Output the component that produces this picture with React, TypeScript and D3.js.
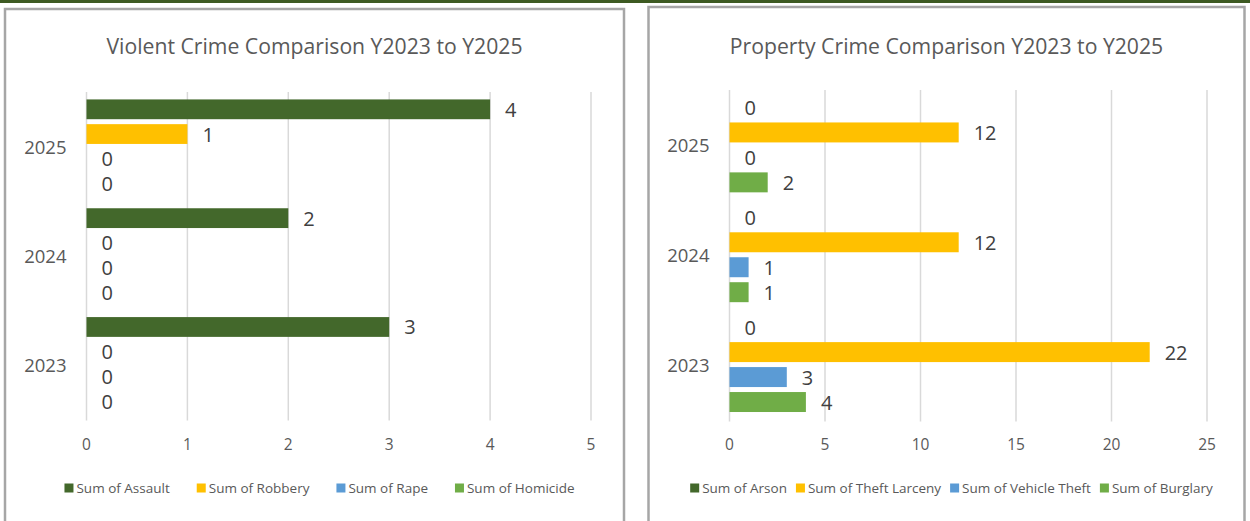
import React, { useEffect, useRef } from 'react';
import * as d3 from 'd3';

// Categories (top to bottom as drawn)
const years = ['2025', '2024', '2023'];

// Violent crime
const violentTitle = 'Violent Crime Comparison Y2023 to Y2025';
const violentSeries = ['Sum of Assault', 'Sum of Robbery', 'Sum of Rape', 'Sum of Homicide'];
const assault = [4, 2, 3];
const robbery = [1, 0, 0];
const rape = [0, 0, 0];
const homicide = [0, 0, 0];
const violentTicks = [0, 1, 2, 3, 4, 5];

// Property crime
const propertyTitle = 'Property Crime Comparison Y2023 to Y2025';
const propertySeries = ['Sum of Arson', 'Sum of Theft Larceny', 'Sum of Vehicle Theft', 'Sum of Burglary'];
const arson = [0, 0, 0];
const theftLarceny = [12, 12, 22];
const vehicleTheft = [0, 1, 3];
const burglary = [2, 1, 4];
const propertyTicks = [0, 5, 10, 15, 20, 25];

const seriesColors = ['#43682B', '#FFC000', '#5B9BD5', '#70AD47'];

const FONT = "'Open Sans', 'Noto Sans', sans-serif";

interface PanelCfg {
  title: string;
  series: string[];
  values: number[][];
  ticks: number[];
  panel: { x: number; y: number; w: number };
  plot: { x0: number; x1: number; y0: number; y1: number };
  legendGap: number;
  legendShift: number;
}

function drawPanel(svg: d3.Selection<SVGSVGElement, unknown, null, undefined>, cfg: PanelCfg) {
  const g = svg.append('g');
  const { panel, plot } = cfg;
  g.append('rect')
    .attr('x', panel.x)
    .attr('y', panel.y)
    .attr('width', panel.w)
    .attr('height', 600)
    .attr('fill', '#fff')
    .attr('stroke', '#A6A6A6')
    .attr('stroke-width', 2.5);

  const cx = panel.x + panel.w / 2;
  g.append('text')
    .attr('x', cx)
    .attr('y', 45)
    .attr('text-anchor', 'middle')
    .attr('dominant-baseline', 'central')
    .attr('font-family', FONT)
    .attr('font-size', 21.2)
    .attr('fill', '#595959')
    .text(cfg.title);

  const maxV = cfg.ticks[cfg.ticks.length - 1];
  const x = d3.scaleLinear().domain([0, maxV]).range([plot.x0, plot.x1]);
  const y = d3.scaleBand<string>().domain(years).range([plot.y0, plot.y1]).padding(0);
  const idx = cfg.series.map((_, i) => String(i));
  const ys = d3.scaleBand<string>().domain(idx).range([0, y.bandwidth()]).paddingInner(0.2).paddingOuter(0.3);

  // gridlines
  g.selectAll('line.grid')
    .data(cfg.ticks)
    .enter()
    .append('line')
    .attr('x1', (d) => x(d))
    .attr('x2', (d) => x(d))
    .attr('y1', plot.y0)
    .attr('y2', plot.y1 + 2)
    .attr('stroke', '#D9D9D9')
    .attr('stroke-width', 1.5);

  // tick labels
  g.selectAll('text.tick')
    .data(cfg.ticks)
    .enter()
    .append('text')
    .attr('x', (d) => x(d))
    .attr('y', 444)
    .attr('text-anchor', 'middle')
    .attr('dominant-baseline', 'central')
    .attr('font-family', FONT)
    .attr('font-size', 15.5)
    .attr('fill', '#595959')
    .text((d) => String(d));

  // category labels
  g.selectAll('text.cat')
    .data(years)
    .enter()
    .append('text')
    .attr('x', plot.x0 - 20)
    .attr('y', (d) => (y(d) as number) + y.bandwidth() / 2)
    .attr('text-anchor', 'end')
    .attr('dominant-baseline', 'central')
    .attr('font-family', FONT)
    .attr('font-size', 18.5)
    .attr('fill', '#595959')
    .text((d) => d);

  // bars + labels
  cfg.values.forEach((vals, si) => {
    const sg = g.append('g');
    sg.selectAll('rect')
      .data(vals)
      .enter()
      .append('rect')
      .attr('x', x(0))
      .attr('y', (_, i) => (y(years[i]) as number) + (ys(String(si)) as number))
      .attr('width', (d) => Math.max(0, x(d) - x(0)))
      .attr('height', ys.bandwidth())
      .attr('fill', seriesColors[si]);
    sg.selectAll('text')
      .data(vals)
      .enter()
      .append('text')
      .attr('x', (d) => x(d) + 15)
      .attr('y', (_, i) => (y(years[i]) as number) + (ys(String(si)) as number) + ys.bandwidth() / 2)
      .attr('dominant-baseline', 'central')
      .attr('font-family', FONT)
      .attr('font-size', 20)
      .attr('fill', '#404040')
      .text((d) => String(d));
  });

  // legend
  const lg = g.append('g');
  const items = cfg.series.map((name, i) => {
    const ig = lg.append('g');
    ig.append('rect').attr('x', 0).attr('y', -4.5).attr('width', 9).attr('height', 9).attr('fill', seriesColors[i]);
    const t = ig
      .append('text')
      .attr('x', 12)
      .attr('y', 0)
      .attr('dominant-baseline', 'central')
      .attr('font-family', FONT)
      .attr('font-size', 13.5)
      .attr('fill', '#595959')
      .text(name);
    const w = 12 + (t.node() as SVGTextElement).getComputedTextLength();
    return { ig, w };
  });
  const gap = cfg.legendGap;
  const total = items.reduce((s, it) => s + it.w, 0) + gap * (items.length - 1);
  let lx = cx + cfg.legendShift - total / 2;
  items.forEach((it) => {
    it.ig.attr('transform', `translate(${lx},488)`);
    lx += it.w + gap;
  });
}

export default function App() {
  const ref = useRef<SVGSVGElement | null>(null);
  useEffect(() => {
    if (!ref.current) return;
    const svg = d3.select(ref.current);
    svg.selectAll('*').remove();
    svg.append('rect').attr('x', 0).attr('y', 0).attr('width', 1250).attr('height', 521).attr('fill', '#fff');

    drawPanel(svg, {
      title: violentTitle,
      series: violentSeries,
      values: [assault, robbery, rape, homicide],
      ticks: violentTicks,
      panel: { x: 5, y: 9, w: 619 },
      plot: { x0: 86.5, x1: 591, y0: 92, y1: 418.5 },
      legendGap: 27,
      legendShift: 5,
    });
    drawPanel(svg, {
      title: propertyTitle,
      series: propertySeries,
      values: [arson, theftLarceny, vehicleTheft, burglary],
      ticks: propertyTicks,
      panel: { x: 648.5, y: 7, w: 596 },
      plot: { x0: 729.5, x1: 1207, y0: 90, y1: 419.5 },
      legendGap: 9,
      legendShift: 5,
    });

    svg.append('rect').attr('x', 0).attr('y', 0).attr('width', 1250).attr('height', 3).attr('fill', '#3D5A22');
  }, []);
  return (
    <svg
      ref={ref}
      width={1250}
      height={521}
      style={{ position: 'absolute', left: 0, top: 0, display: 'block' }}
    />
  );
}
